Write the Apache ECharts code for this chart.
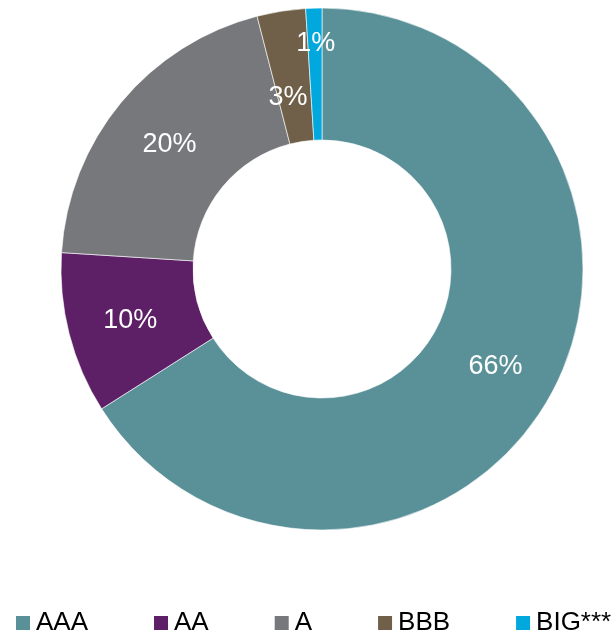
<!DOCTYPE html>
<html>
<head>
<meta charset="utf-8">
<script src="https://cdn.jsdelivr.net/npm/echarts@6/dist/echarts.min.js"></script>
<style>
  html, body { margin: 0; padding: 0; background: #fff; }
  #chart { width: 614px; height: 634px; }
</style>
</head>
<body>
<div id="chart"></div>
<script>
// rating buckets and their share (%)
var categories = ['AAA', 'AA', 'A', 'BBB', 'BIG***'];
var shares = [66, 10, 20, 3, 1];
var colors = ['#5a9199', '#5d1f66', '#77787c', '#716049', '#00a8de'];

// label nudges (dx, dy) for the two thin slices, like the original
var labelShift = { 3: [-3, 24], 4: [0, -28] };

var chart = echarts.init(document.getElementById('chart'));

var data = categories.map(function (name, i) {
  return { name: name, value: shares[i], itemStyle: { color: colors[i] } };
});

chart.setOption({
  animation: false,
  legend: {
    data: categories,
    left: 14,
    top: 610,
    padding: 0,
    itemWidth: 16,
    itemHeight: 16,
    itemGap: 64,
    icon: 'rect',
    textStyle: {
      fontFamily: 'Liberation Sans, Arial, sans-serif',
      fontSize: 26,
      color: '#000'
    }
  },
  series: [
    {
      type: 'pie',
      center: [322, 269],
      radius: [129, 261],
      startAngle: 90,
      clockwise: true,
      avoidLabelOverlap: false,
      minShowLabelAngle: 0,
      itemStyle: {
        borderColor: '#ffffff',
        borderWidth: 0.6
      },
      label: {
        show: true,
        position: 'inside',
        formatter: '{c}%',
        color: '#fff',
        fontFamily: 'Liberation Sans, Arial, sans-serif',
        fontSize: 27
      },
      labelLayout: function (params) {
        var s = labelShift[params.dataIndex] || [0, 2];
        return { dx: s[0], dy: s[1], hideOverlap: false };
      },
      labelLine: { show: false },
      emphasis: { disabled: true },
      data: data
    }
  ]
});
</script>
</body>
</html>
